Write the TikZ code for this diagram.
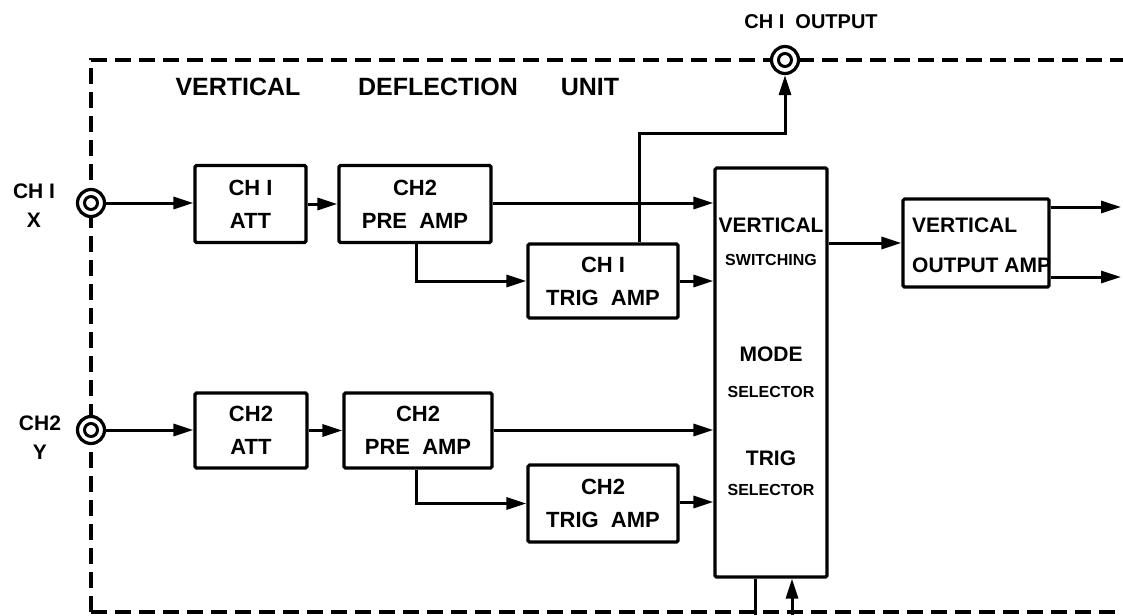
\documentclass[tikz,border=0pt]{standalone}
\usepackage{fontspec}
\setmainfont{Liberation Sans}
\usetikzlibrary{arrows.meta,calc}
\tikzset{
  blk/.style={draw, line width=3.2pt, rounded corners=1.5pt, inner sep=0pt, align=center,
              font=\bfseries\fontsize{22}{33}\selectfont},
  sig/.style={line width=3pt, -{Triangle[length=20pt,width=12pt]}},
  wire/.style={line width=3pt},
  border/.style={line width=3.2pt, dash pattern=on 16pt off 8pt},
  jack/.style={circle, draw, line width=3.2pt, fill=white, minimum size=27pt, inner sep=0pt,
               path picture={\draw[line width=3pt] (path picture bounding box.center) circle (6.5pt);}},
  lbl/.style={font=\bfseries\fontsize{21}{29}\selectfont, align=center, inner sep=0pt},
  big/.style={font=\bfseries\fontsize{21}{25}\selectfont, inner sep=0pt},
  small/.style={font=\bfseries\fontsize{16}{19}\selectfont, inner sep=0pt},
  head/.style={font=\bfseries\fontsize{25}{30}\selectfont, inner sep=0pt}
}
\begin{document}
\begin{tikzpicture}[x=1pt,y=1pt]
\useasboundingbox (0,0) rectangle (1123,-615);
% jacks positions
\coordinate (pj1) at (91,-203);
\coordinate (pj2) at (91,-430);
\coordinate (pjo) at (785,-60);
% border
\draw[border] (91,-612) -- (91,-60) -- ($(pjo)+(-13,0)$);
\draw[border] ($(pjo)+(13,0)$) -- (1123,-60);
\draw[border] (91,-612) -- (1123,-612);
% jacks
\node[jack] (j1) at (pj1) {};
\node[jack] (j2) at (pj2) {};
\node[jack] (jo) at (pjo) {};
% blocks
\node[blk, minimum width=111pt, minimum height=77pt] (att1) at (250.5,-204) {CH I\\ATT};
\node[blk, minimum width=152pt, minimum height=77pt] (pre1) at (415,-204) {CH2\\PRE~~AMP};
\node[blk, minimum width=150pt, minimum height=74pt] (trig1) at (603,-281) {CH I\\TRIG~~AMP};
\node[blk, minimum width=112pt, minimum height=409pt] (main) at (771,-372.5) {};
\node[blk, minimum width=146pt, minimum height=88pt] (voa) at (976,-243) {};
\node[blk, minimum width=112pt, minimum height=75pt] (att2) at (251,-430.5) {CH2\\ATT};
\node[blk, minimum width=148pt, minimum height=75pt] (pre2) at (418,-430.5) {CH2\\PRE~~AMP};
\node[blk, minimum width=150pt, minimum height=77pt] (trig2) at (603,-503.5) {CH2\\TRIG~~AMP};
% main box texts
\node[big] (t1) at (771,-225) {VERTICAL};
\node[small] (t2) at (771,-260) {SWITCHING};
\node[big] (t3) at (771,-354) {MODE};
\node[small] (t4) at (771,-392) {SELECTOR};
\node[big] (t5) at (771,-458) {TRIG};
\node[small] (t6) at (771,-490) {SELECTOR};
% voa texts
\node[big, anchor=west] (v1) at (912,-225) {VERTICAL};
\node[big, anchor=west] (v2) at (912,-265) {OUTPUT AMP};
% outside labels
\node[lbl] (l1) at (34,-206) {CH I\\X};
\node[lbl] (l2) at (40,-438) {CH2\\Y};
\node[font=\bfseries\fontsize{20}{24}\selectfont, inner sep=0pt] (lo) at (811,-22) {CH I~~OUTPUT};
\node[head] (h1) at (238,-87) {VERTICAL};
\node[head] (h2) at (438,-87) {DEFLECTION};
\node[head] (h3) at (590,-87) {UNIT};
% row 1 connections
\draw[sig] (j1.east) -- (j1.east -| att1.west);
\draw[sig] (att1.east) -- (pre1.west);
\draw[sig] (pre1.east |- 0,-203) -- (main.west |- 0,-203);
\draw[sig] ($(pre1.south west)+(79,0)$) |- (trig1.west);
\draw[sig] (trig1.east) -- (trig1.east -| main.west);
\coordinate (k1) at ($(trig1.north west)+(113,0)$);
\draw[sig] (k1) |- ($(jo.south)+(0,-58)$) -- (jo.south);
% to vertical output amp
\draw[sig] (main.east |- voa.west) -- (voa.west);
\coordinate (o1) at (1121,-207);
\coordinate (o2) at (1121,-277);
\draw[sig] (voa.east |- o1) -- (o1);
\draw[sig] (voa.east |- o2) -- (o2);
% row 2 connections
\draw[sig] (j2.east) -- (j2.east -| att2.west);
\draw[sig] (att2.east) -- (pre2.west);
\draw[sig] (pre2.east |- 0,-430) -- (main.west |- 0,-430);
\draw[sig] ($(pre2.south west)+(74,0)$) |- (trig2.west);
\draw[sig] (trig2.east |- 0,-502) -- (main.west |- 0,-502);
% bottom connections
\coordinate (b1) at (755,-615);
\coordinate (b2) at (792,-615);
\draw[wire] (main.south -| b1) -- (b1);
\draw[sig] (b2) -- (b2 |- main.south);
\end{tikzpicture}
\end{document}
